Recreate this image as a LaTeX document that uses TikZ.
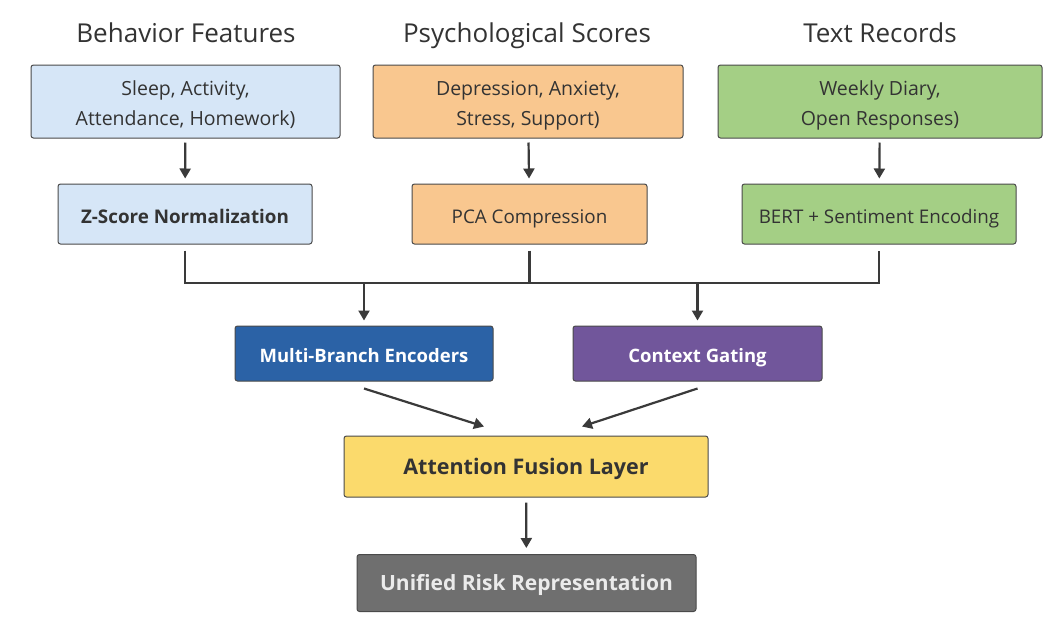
\documentclass[tikz,border=0pt]{standalone}
\usepackage{fontspec}
\setmainfont{Open Sans}
\usetikzlibrary{positioning,arrows.meta}
\definecolor{behfill}{HTML}{D6E6F7}
\definecolor{psyfill}{HTML}{F9C78F}
\definecolor{txtfill}{HTML}{A4CF85}
\definecolor{encfill}{HTML}{2B62A6}
\definecolor{gatefill}{HTML}{71569B}
\definecolor{fusefill}{HTML}{FBDA6C}
\definecolor{outfill}{HTML}{6F6F6F}
\definecolor{boxline}{HTML}{4A4A4A}
\definecolor{arrowgray}{HTML}{3A3A3A}
\definecolor{inkgray}{HTML}{333333}

\begin{document}
\begin{tikzpicture}[x=1pt,y=-1pt,
    head/.style={text=inkgray, text height=19.5pt, text depth=1pt, font=\fontsize{26}{30}\selectfont},
    box/.style={draw=boxline, line width=1pt, rounded corners=2.5pt, align=center,
        inner sep=0pt, text=inkgray, font=\fontsize{19.5}{30}\selectfont},
    inbox/.style={box, minimum height=73pt, text height=50pt, text depth=2pt},
    prepbox/.style={box, minimum height=60pt, text height=19.3pt, text depth=1pt,
        font=\fontsize{18.8}{22}\selectfont},
    midbox/.style={box, minimum height=55pt, text height=19.3pt, text depth=1pt,
        text=white, font=\fontsize{18.5}{22}\selectfont\bfseries},
    arr/.style={draw=arrowgray, line width=2.2pt, -{Triangle[length=10pt,width=11pt]}},
    bus/.style={draw=arrowgray, line width=2.2pt}]
    \useasboundingbox[fill=white] (0,0) rectangle (1049,619);

    % three inputs
    \node[head] (hbeh) at (186,33) {Behavior Features};
    \node[head] (hpsy) at (527,33) {Psychological Scores};
    \node[head] (htxt) at (880,33) {Text Records};

    \node[inbox, fill=behfill, minimum width=309pt] (beh) at (185.5,101.5) {Sleep, Activity,\\Attendance, Homework)};
    \node[inbox, fill=psyfill, minimum width=310pt] (psy) at (528,101.5) {Depression, Anxiety,\\Stress, Support)};
    \node[inbox, fill=txtfill, minimum width=324pt] (txt) at (880,101.5) {Weekly Diary,\\Open Responses)};

    \node[prepbox, fill=behfill, minimum width=254pt] (zsc) at (185,214) {\bfseries Z-Score Normalization};
    \node[prepbox, fill=psyfill, minimum width=235pt] (pca) at (529.5,214) {PCA Compression};
    \node[prepbox, fill=txtfill, minimum width=274pt] (bert) at (879,214) {BERT + Sentiment Encoding};

    \draw[arr, shorten <=4pt, shorten >=5pt] (beh) -- (zsc);
    \draw[arr, shorten <=4pt, shorten >=5pt] (psy) -- (pca);
    \draw[arr, shorten <=4pt, shorten >=5pt] (txt) -- (bert);

    % encoders
    \node[midbox, fill=encfill, minimum width=258pt] (enc) at (364,353.5) {Multi-Branch Encoders};
    \node[midbox, fill=gatefill, minimum width=249pt] (gate) at (697.5,353.5) {Context Gating};

    \coordinate (join) at (0,283);
    \draw[bus, shorten <=6pt] (zsc.south) -- (zsc.south |- join) -- (bert.south |- join) -- ([yshift=-6pt]bert.south);
    \draw[bus, shorten <=6pt] (pca.south) -- (pca.south |- join);
    \draw[arr, shorten >=5pt] (enc.north |- join) -- (enc.north);
    \draw[arr, shorten >=5pt] (gate.north |- join) -- (gate.north);

    % fusion
    \node[box, fill=fusefill, minimum width=364pt, minimum height=61pt, text height=17.3pt, text depth=1pt,
        font=\fontsize{21.5}{26}\selectfont\bfseries] (fuse) at (526,466.5) {Attention Fusion Layer};
    \node[box, fill=outfill, minimum width=339pt, minimum height=57pt, text height=16.9pt, text depth=1pt,
        text=white!92!black, font=\fontsize{21}{26}\selectfont\bfseries] (out) at (526.5,583) {Unified Risk Representation};

    \draw[arr] ([yshift=-7pt]enc.south) -- ([xshift=-42pt,yshift=9pt]fuse.north);
    \draw[arr] ([yshift=-7pt]gate.south) -- ([xshift=56pt,yshift=9pt]fuse.north);
    \draw[arr, shorten <=5pt, shorten >=6pt] (fuse) -- (out);
\end{tikzpicture}
\end{document}
